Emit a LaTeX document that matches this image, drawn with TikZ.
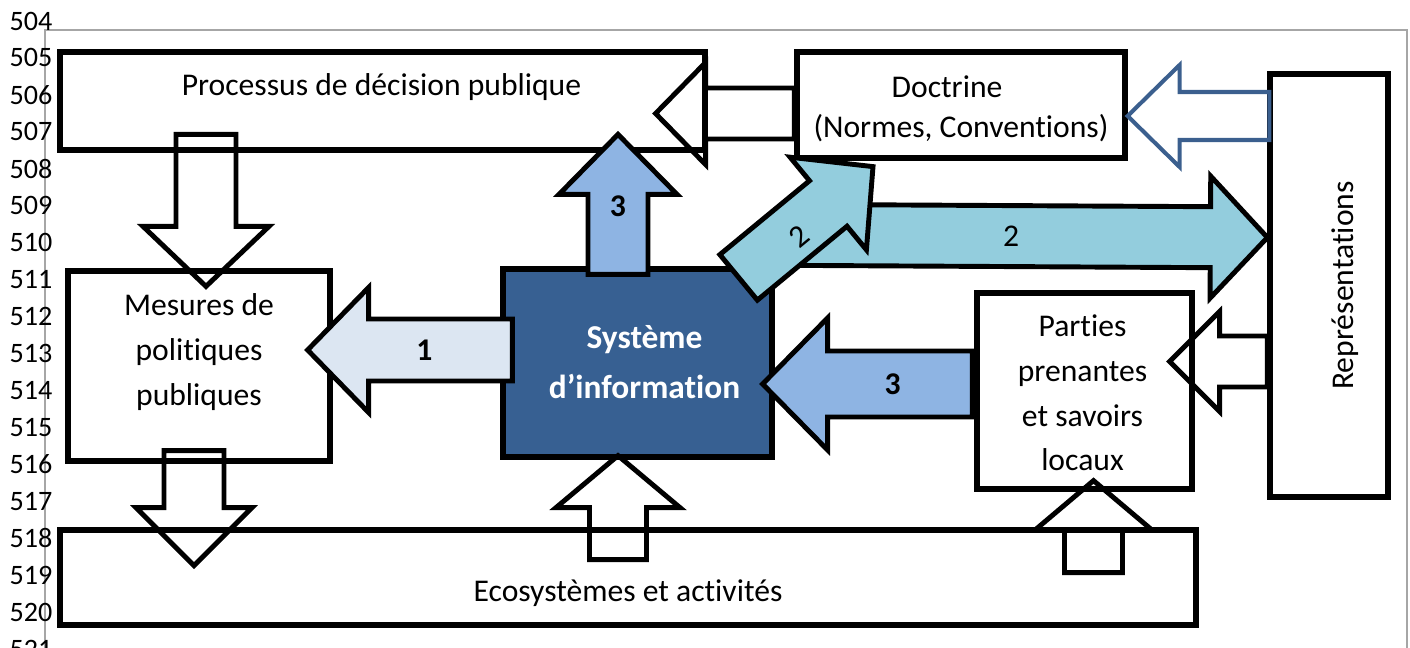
\documentclass[tikz,border=0pt]{standalone}
\usepackage{fontspec}
\setmainfont{Carlito}[Ligatures=NoCommon]
\usetikzlibrary{positioning,calc}
\definecolor{sysblue}{HTML}{376092}
\definecolor{paleblue}{HTML}{DCE6F2}
\definecolor{midblue}{HTML}{8EB4E3}
\definecolor{aqua}{HTML}{93CDDD}
\definecolor{edgeblue}{HTML}{3B5F8E}
\definecolor{framegray}{HTML}{A6A6A6}
\tikzset{
    box/.style = {
        draw,
        shape=rectangle,
        line width=3pt,
        inner sep=0pt
    },
    txt/.style = {
        align=center,
        inner sep=0pt,
        font=\fontsize{18}{25.5}\selectfont
    },
    sitxt/.style = {
        align=center,
        inner sep=0pt,
        text=white,
        font=\fontsize{19}{28.4}\selectfont\bfseries
    },
    lineno/.style = {
        inner sep=0pt,
        font=\fontsize{16}{18}\selectfont
    },
    numlbl/.style = {
        inner sep=0pt,
        font=\fontsize{18}{20}\selectfont\bfseries
    },
    hollow/.style = {
        draw,
        line width=2.8pt
    },
    filled/.style = {
        draw,
        line width=2.8pt,
        fill=#1
    },
}
% block arrow: [style]{from}{to}{half shaft}{half head}{head length}
\newcommand{\blkarrow}[6][]{%
    \coordinate (ahbase) at ($#3!#6!#2$);
    \path[#1] ($#2!#4!90:#3$) -- ($(ahbase)!#4!90:#3$) -- ($(ahbase)!#5!90:#3$) -- #3
        -- ($(ahbase)!#5!-90:#3$) -- ($(ahbase)!#4!-90:#3$) -- ($#2!#4!-90:#3$) -- cycle;
}

\begin{document}
\begin{tikzpicture}[x=0.02cm,y=-0.02cm]
    \useasboundingbox (0,0) rectangle (1410,648);

    % page frame and line numbers
    \draw[framegray, line width=0.8pt] (45,648) -- (45,30) -- (1407,30) -- (1407,648);
    \foreach \n [evaluate=\n as \yy using {21+36.94*(\n-504)}] in {504,...,521}
        \node[lineno] (ln\n) at (31,\yy) {\n};

    % boxes
    \node[box, minimum width=12.9cm, minimum height=1.96cm] (proc) at (382.5,101) {};
    \node[box, minimum width=6.56cm, minimum height=2.12cm] (doct) at (961,105) {};
    \node[box, minimum width=2.36cm, minimum height=8.46cm] (repr) at (1329,285.5) {};
    \node[box, minimum width=5.24cm, minimum height=3.8cm] (mes) at (199,366) {};
    \node[box, minimum width=5.38cm, minimum height=3.76cm, fill=sysblue] (si) at (637.5,363) {};
    \node[box, minimum width=4.3cm, minimum height=3.92cm] (part) at (1084.5,391) {};
    \node[box, minimum width=22.72cm, minimum height=1.9cm] (eco) at (628,577.5) {};

    \node[txt] (proctxt) at ($(proc.center)+(-1,-14)$) {Processus de décision publique};
    \node[txt] (docttxt) at ($(doct.center)+(-14,-18)$) {Doctrine};
    \node[txt] (normtxt) at ($(doct.center)+(0,23)$) {(Normes, Conventions)};
    \node[txt, rotate=90] (reprtxt) at ($(repr.center)+(16,0)$) {Représentations};
    \node[txt] (mestxt) at ($(mes.center)+(0,-14)$) {Mesures de\\politiques\\publiques};
    \node[sitxt] (sitxt) at ($(si.center)+(7,-1)$) {Système\\d’information};
    \node[txt] (parttxt) at ($(part.center)+(-2,2)$) {Parties\\prenantes\\et savoirs\\locaux};
    \node[txt] (ecotxt) at ($(eco.center)+(0,16)$) {Ecosystèmes et activités};

    % arrow ends
    \coordinate (a1s) at ($(mes.north)+(7,-134)$);
    \coordinate (a1e) at ($(mes.north)+(7,18)$);
    \coordinate (a2s) at ($(mes.south)+(-5,-13)$);
    \coordinate (a2e) at ($(mes.south)+(-5,102)$);
    \coordinate (a3s) at ($(si.south)+(-19.5,100)$);
    \coordinate (a3e) at ($(si.south)+(-19.5,-4)$);
    \coordinate (a4s) at ($(part.south)+(9,81)$);
    \coordinate (a4e) at ($(part.south)+(9,-11)$);
    \coordinate (a5s) at ($(si.west)+(12,-13)$);
    \coordinate (a5e) at ($(mes.east)+(-25,-16)$);
    \coordinate (a6s) at ($(si.north)+(-19.5,8)$);
    \coordinate (a6e) at ($(si.north)+(-19.5,-132)$);
    \coordinate (a7s) at ($(part.west)+(-2,-7)$);
    \coordinate (a7e) at ($(si.east)+(-12,21)$);
    \coordinate (a8s) at ($(doct.west)+(0,8.5)$);
    \coordinate (a8e) at ($(proc.east)+(-52,12.5)$);
    \coordinate (a9s) at ($(repr.west)+(2,-169.5)$);
    \coordinate (a9e) at ($(doct.east)+(0,11)$);
    \coordinate (a10s) at ($(repr.west)+(0,76)$);
    \coordinate (a10e) at ($(part.east)+(-25,-29.5)$);
    \coordinate (a11s) at ($(si.north east)+(18,-31.5)$);
    \coordinate (a11e) at ($(repr.west)+(0,-48)$);
    \coordinate (a12s) at ($(si.north east)+(-36,11)$);
    \coordinate (a12e) at ($(doct.south)+(-88,6)$);

    % hollow arrows
    \blkarrow[hollow]{(a1s)}{(a1e)}{0.6cm}{1.26cm}{1.2cm}
    \blkarrow[hollow]{(a2s)}{(a2e)}{0.6cm}{1.16cm}{1.16cm}
    \blkarrow[hollow]{(a3s)}{(a3e)}{0.57cm}{1.24cm}{1.04cm}
    \blkarrow[hollow]{(a4s)}{(a4e)}{0.58cm}{1.16cm}{0.98cm}
    \blkarrow[hollow]{(a8s)}{(a8e)}{0.51cm}{1.02cm}{1.0cm}
    \blkarrow[draw=edgeblue, line width=2.3pt]{(a9s)}{(a9e)}{0.48cm}{1.02cm}{1.04cm}
    \blkarrow[hollow]{(a10s)}{(a10e)}{0.51cm}{1.0cm}{1.0cm}

    % coloured arrows
    \blkarrow[filled=paleblue]{(a5s)}{(a5e)}{0.62cm}{1.25cm}{1.22cm}
    \blkarrow[filled=midblue]{(a6s)}{(a6e)}{0.6cm}{1.18cm}{1.2cm}
    \blkarrow[filled=midblue]{(a7s)}{(a7e)}{0.66cm}{1.32cm}{1.3cm}
    \blkarrow[filled=aqua]{(a11s)}{(a11e)}{0.61cm}{1.22cm}{1.14cm}
    \blkarrow[filled=aqua]{(a12s)}{(a12e)}{0.59cm}{1.2cm}{1.16cm}

    % arrow labels
    \node[numlbl] (lbl1) at ($(a5s)!0.43!(a5e)$) {1};
    \node[numlbl] (lbl3a) at ($(a6s)!0.49!(a6e)$) {3};
    \node[numlbl] (lbl3b) at ($(a7s)!0.38!(a7e)$) {3};
    \node[txt] (lbl2a) at ($(a11s)!0.46!(a11e)$) {2};
    \path (a12s) -- (a12e) node[txt, pos=0.42, sloped, yshift=-4pt] (lbl2b) {2};
\end{tikzpicture}
\end{document}
